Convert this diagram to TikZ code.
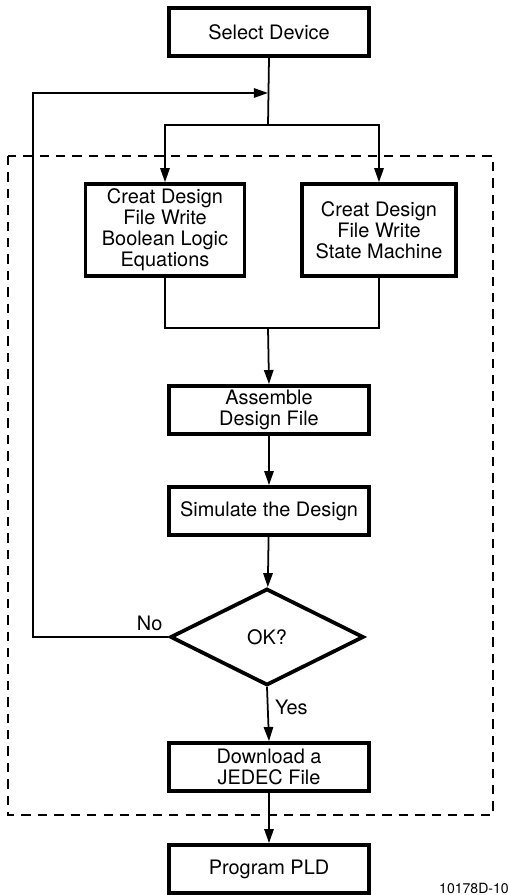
\documentclass[tikz,border=0pt]{standalone}
\usepackage{fontspec}
\setmainfont{TeX Gyre Heros}
\usetikzlibrary{shapes.geometric,arrows.meta,calc}

\tikzset{
  stepbox/.style={draw, line width=3pt, minimum width=6cm, minimum height=1.45cm,
    align=center, inner sep=0pt, font=\fontsize{17}{18}\selectfont},
  decide/.style={draw, diamond, line width=3.2pt, minimum width=5.8cm, minimum height=2.9cm,
    inner sep=0pt, font=\fontsize{17}{18}\selectfont},
  flow/.style={line width=1.5pt, -{Triangle[length=12pt,width=8pt]}},
  link/.style={line width=1.5pt},
  tag/.style={font=\fontsize{17}{18}\selectfont, inner sep=3pt}
}

\begin{document}
\begin{tikzpicture}[x=0.03cm, y=-0.03cm]
    \useasboundingbox (0,0) rectangle (510,895);

    % Design window
    \draw[dashed, line width=1.4pt, dash pattern=on 8pt off 6pt] (8,156) rectangle (493,815);

    % Steps
    \node[stepbox] (select) at (269,32) {Select Device};
    \node[stepbox, minimum width=4.77cm, minimum height=2.76cm] (bool) at (165,230)
      {Creat Design\\File Write\\Boolean Logic\\Equations};
    \node[stepbox, minimum width=4.62cm, minimum height=2.76cm] (state) at (379,230)
      {Creat Design\\File Write\\State Machine};
    \node[stepbox] (asm) at (269,410) {Assemble\\Design File};
    \node[stepbox] (sim) at (269,511) {Simulate the Design};
    \node[decide] (ok) at (267,637) {OK?};
    \node[stepbox] (jedec) at (269,767) {Download a\\JEDEC File};
    \node[stepbox] (pld) at (269,869) {Program PLD};

    % Junctions
    \coordinate (split) at (268,125);
    \coordinate (merge) at (268,328);
    \coordinate (rejoin) at (268,93);
    \coordinate (corner) at (33,93);

    % Connectors
    \draw[link] (select.south) -- (split);
    \draw[flow] (split) -| (bool.north);
    \draw[flow] (split) -| (state.north);
    \draw[link] (bool.south) |- (merge);
    \draw[link] (state.south) |- (merge);
    \draw[flow] (merge) -- (asm.north);
    \draw[flow] (asm) -- (sim);
    \draw[flow] (sim) -- (ok);
    \draw[flow] (ok.west) -| (corner) -- (rejoin);
    \node[tag, above left, xshift=-2pt, yshift=2pt] (no) at (ok.west) {No};
    \draw[flow] (ok.south) -- (jedec.north);
    \node[tag, right, xshift=3pt] (yes) at ($(ok.south)!0.38!(jedec.north)$) {Yes};
    \draw[flow] (jedec) -- (pld);

    % Figure number
    \node[anchor=south east, inner sep=0pt, font=\fontsize{12}{13}\selectfont] (fig) at (509,894) {10178D-10};
\end{tikzpicture}
\end{document}
